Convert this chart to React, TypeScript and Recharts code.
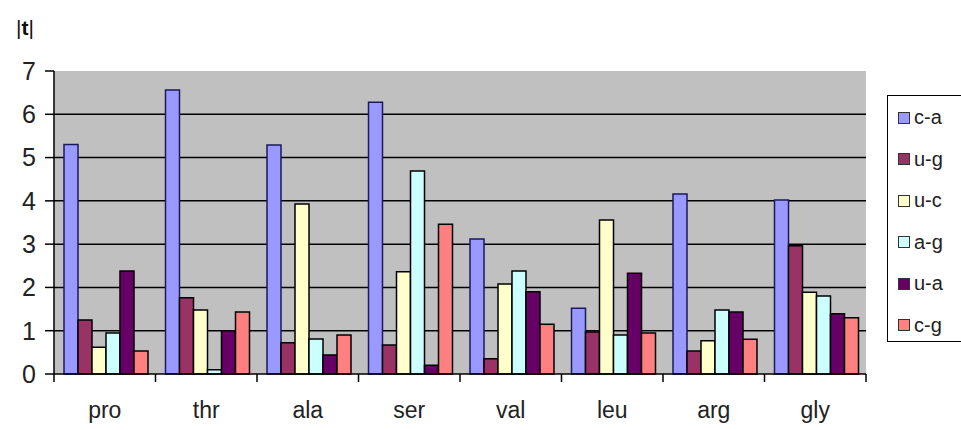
import React from 'react';
import { BarChart, Bar, XAxis, YAxis, CartesianGrid } from 'recharts';

const categories = ['pro', 'thr', 'ala', 'ser', 'val', 'leu', 'arg', 'gly'];
const caValues = [5.3, 6.56, 5.29, 6.28, 3.12, 1.52, 4.16, 4.02];
const ugValues = [1.25, 1.76, 0.72, 0.67, 0.35, 0.97, 0.53, 2.96];
const ucValues = [0.62, 1.48, 3.93, 2.36, 2.08, 3.56, 0.77, 1.89];
const agValues = [0.95, 0.1, 0.81, 4.69, 2.38, 0.9, 1.48, 1.8];
const uaValues = [2.38, 1.0, 0.44, 0.2, 1.9, 2.33, 1.43, 1.39];
const cgValues = [0.53, 1.43, 0.9, 3.46, 1.15, 0.95, 0.8, 1.3];
const yTicks = [0, 1, 2, 3, 4, 5, 6, 7];

const seriesList = [
  { key: 'c-a', fill: '#9999FF', stroke: '#1a1a5a' },
  { key: 'u-g', fill: '#993366', stroke: '#000' },
  { key: 'u-c', fill: '#FFFFCC', stroke: '#000' },
  { key: 'a-g', fill: '#CCFFFF', stroke: '#000' },
  { key: 'u-a', fill: '#660066', stroke: '#000' },
  { key: 'c-g', fill: '#FF8080', stroke: '#000' },
];

const data = categories.map((name, i) => ({
  name,
  'c-a': caValues[i],
  'u-g': ugValues[i],
  'u-c': ucValues[i],
  'a-g': agValues[i],
  'u-a': uaValues[i],
  'c-g': cgValues[i],
}));

const FONT = '"Liberation Sans", Arial, sans-serif';
const BAND = 812 / categories.length;

const CategoryTick = (props: any) => {
  const { x, y, payload, index } = props;
  const left = x - BAND / 2;
  return (
    <g>
      <line x1={left} y1={y} x2={left} y2={y + 8} stroke="#000" strokeWidth={1.5} />
      {index === categories.length - 1 && (
        <line x1={x + BAND / 2} y1={y} x2={x + BAND / 2} y2={y + 8} stroke="#000" strokeWidth={1.5} />
      )}
      <text x={x} y={y + 44} textAnchor="middle" fontSize={23} fontFamily={FONT} fill="#222">
        {payload.value}
      </text>
    </g>
  );
};

const LegendBox = () => (
  <div
    style={{
      position: 'absolute',
      left: 887,
      top: 95,
      width: 90,
      height: 247,
      border: '1px solid #000',
      background: '#fff',
      boxSizing: 'border-box',
      paddingTop: 1,
    }}
  >
    {seriesList.map((s) => (
      <div key={s.key} style={{ display: 'flex', alignItems: 'center', height: 41.5, paddingLeft: 10 }}>
        <span
          style={{
            display: 'inline-block',
            width: 10,
            height: 10,
            background: s.fill,
            border: '1px solid #333',
            marginRight: 4,
          }}
        />
        <span style={{ fontFamily: FONT, fontSize: 20, color: '#222' }}>{s.key}</span>
      </div>
    ))}
  </div>
);

export default function App() {
  return (
    <div style={{ position: 'absolute', left: 0, top: 0, width: 961, height: 430, background: '#fff', overflow: 'hidden' }}>
      <div style={{ position: 'absolute', left: 16, top: 16, fontFamily: FONT, fontSize: 21, color: '#111' }}>
        |<b>t</b>|
      </div>
      <BarChart
        width={961}
        height={430}
        data={data}
        margin={{ top: 71, right: 95, left: 0, bottom: 0 }}
        barCategoryGap={10}
        barGap={0}
      >
        <CartesianGrid
          vertical={false}
          horizontalValues={[1, 2, 3, 4, 5, 6]}
          stroke="#000"
          strokeWidth={1.5}
          fill="#C0C0C0"
          fillOpacity={1}
        />
        <XAxis
          dataKey="name"
          height={56}
          tickLine={false}
          tickMargin={0}
          tickSize={0}
          axisLine={{ stroke: '#000', strokeWidth: 1.5 }}
          tick={<CategoryTick />}
          interval={0}
        />
        <YAxis
          width={54}
          domain={[0, 7]}
          ticks={yTicks}
          interval={0}
          tickSize={9}
          tickMargin={9}
          tickLine={{ stroke: '#000', strokeWidth: 1.5 }}
          axisLine={{ stroke: '#000', strokeWidth: 1.5 }}
          tick={{ fontSize: 25, fontFamily: FONT, fill: '#222' }}
        />
        {seriesList.map((s) => (
          <Bar
            key={s.key}
            dataKey={s.key}
            fill={s.fill}
            stroke={s.stroke}
            strokeWidth={1.5}
            isAnimationActive={false}
          />
        ))}
      </BarChart>
      <LegendBox />
    </div>
  );
}
